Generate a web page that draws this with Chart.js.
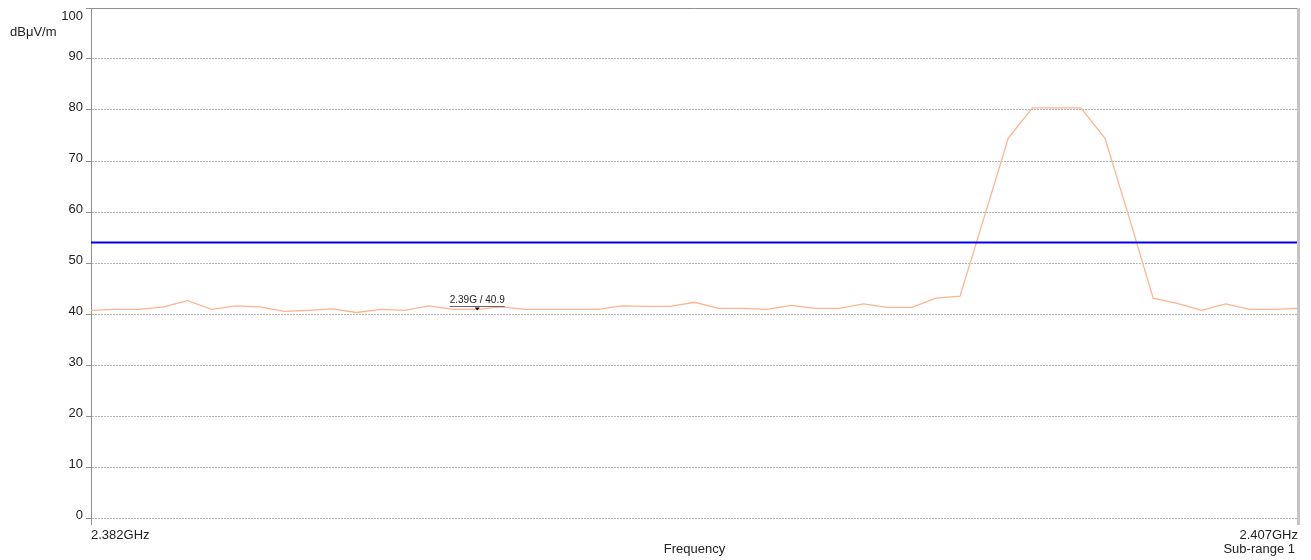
<!DOCTYPE html>
<html>
<head>
<meta charset="utf-8">
<title>Field strength scan</title>
<script src="https://cdn.jsdelivr.net/npm/chart.js@4/dist/chart.umd.min.js"></script>
<style>
    html, body { margin: 0; padding: 0; background: #fff; }
    #scan { display: block; }
</style>
</head>
<body>
<canvas id="scan" width="1311" height="560"></canvas>
<script>
// Sweep 2.382 - 2.407 GHz, 0.5 MHz steps
const freqGHz = [
    2.3820, 2.3825, 2.3830, 2.3835, 2.3840, 2.3845, 2.3850, 2.3855, 2.3860, 2.3865,
    2.3870, 2.3875, 2.3880, 2.3885, 2.3890, 2.3895, 2.3900, 2.3905, 2.3910, 2.3915,
    2.3920, 2.3925, 2.3930, 2.3935, 2.3940, 2.3945, 2.3950, 2.3955, 2.3960, 2.3965,
    2.3970, 2.3975, 2.3980, 2.3985, 2.3990, 2.3995, 2.4000, 2.4005, 2.4010, 2.4015,
    2.4020, 2.4025, 2.4030, 2.4035, 2.4040, 2.4045, 2.4050, 2.4055, 2.4060, 2.4065,
    2.4070
];
// Peak trace, dBuV/m
const levels = [
    40.7, 40.9, 40.9, 41.4, 42.6, 40.9, 41.6, 41.4, 40.5, 40.7,
    41.0, 40.3, 40.9, 40.7, 41.6, 40.9, 40.9, 41.4, 40.9, 40.9,
    40.9, 40.9, 41.6, 41.5, 41.5, 42.3, 41.1, 41.1, 40.9, 41.7,
    41.1, 41.1, 42.0, 41.3, 41.3, 43.1, 43.5, 59.0, 74.5, 80.4,
    80.4, 80.4, 74.5, 59.0, 43.1, 42.1, 40.7, 42.0, 40.9, 40.9,
    41.1
];
const limitFreq = [2.382, 2.407];
const limitLevel = [54, 54];
const yTicks = [0, 10, 20, 30, 40, 50, 60, 70, 80, 90, 100];
const xTicks = [2.382, 2.407];
const xTickText = ['2.382GHz', '2.407GHz'];

// marker M1
const markerFreq = 2.39;
const markerLevel = 40.9;
const markerText = '2.39G / 40.9';

const FONT = 'Arial, "Liberation Sans", sans-serif';
const INK = '#222';

const extras = {
    id: 'extras',
    afterDraw(chart) {
        const { ctx, chartArea: a, scales } = chart;
        ctx.save();

        // top and right frame
        ctx.strokeStyle = '#909090';
        ctx.lineWidth = 1;
        ctx.beginPath();
        ctx.moveTo(a.left, a.top + 0.5);
        ctx.lineTo(a.right, a.top + 0.5);
        ctx.stroke();
        ctx.strokeStyle = '#c4c4c4';
        ctx.lineWidth = 3;
        ctx.beginPath();
        ctx.moveTo(a.right + 0.5, a.top);
        ctx.lineTo(a.right + 0.5, a.bottom + 7);
        ctx.stroke();

        ctx.fillStyle = INK;
        ctx.font = '13px ' + FONT;
        ctx.textBaseline = 'middle';
        ctx.textAlign = 'left';
        ctx.fillText('dB\u03bcV/m', 10, 32);
        ctx.textAlign = 'center';
        ctx.fillText('Frequency', (a.left + a.right) / 2, 549);
        ctx.textAlign = 'right';
        ctx.fillText('Sub-range 1', a.right - 3, 549);
        // top tick label sits inside the frame
        ctx.fillText(String(yTicks[yTicks.length - 1]), a.left - 8, 16);

        // marker label with underline and pointer
        const mx = scales.x.getPixelForValue(markerFreq);
        const my = scales.y.getPixelForValue(markerLevel);
        ctx.font = '10px ' + FONT;
        ctx.textAlign = 'center';
        ctx.fillText(markerText, mx, my - 9);
        const w = ctx.measureText(markerText).width;
        ctx.strokeStyle = '#666';
        ctx.lineWidth = 1;
        ctx.beginPath();
        ctx.moveTo(mx - w / 2, Math.round(my - 3) + 0.5);
        ctx.lineTo(mx + w / 2, Math.round(my - 3) + 0.5);
        ctx.stroke();
        ctx.fillStyle = '#000';
        ctx.beginPath();
        ctx.moveTo(mx - 2.5, my - 2);
        ctx.lineTo(mx + 2.5, my - 2);
        ctx.lineTo(mx, my + 1);
        ctx.closePath();
        ctx.fill();
        ctx.restore();
    }
};

new Chart(document.getElementById('scan'), {
    type: 'line',
    data: {
        datasets: [
            {
                label: 'Limit',
                data: limitFreq.map((f, i) => ({ x: f, y: limitLevel[i] })),
                borderColor: '#0000ee',
                borderWidth: 2,
                pointRadius: 0,
                tension: 0
            },
            {
                label: 'Peak',
                data: freqGHz.map((f, i) => ({ x: f, y: levels[i] })),
                borderColor: '#ffb48e',
                borderWidth: 1.3,
                pointRadius: 0,
                tension: 0
            }
        ]
    },
    options: {
        responsive: false,
        animation: false,
        layout: { padding: { top: 8, right: 13, left: 0, bottom: 0 } },
        plugins: {
            legend: { display: false },
            tooltip: { enabled: false }
        },
        scales: {
            x: {
                type: 'linear',
                min: 2.382,
                max: 2.407,
                afterBuildTicks: s => { s.ticks = xTicks.map(v => ({ value: v })); },
                afterFit: s => { s.height = 42; s.paddingLeft = 0; s.paddingRight = 0; },
                grid: { drawOnChartArea: false, drawTicks: true, tickLength: 7, color: '#909090' },
                border: { display: false },
                ticks: {
                    align: 'inner',
                    padding: 3,
                    maxRotation: 0,
                    autoSkip: false,
                    color: INK,
                    font: { family: FONT, size: 13 },
                    callback: (v, i) => xTickText[i]
                }
            },
            y: {
                min: 0,
                max: 100,
                afterBuildTicks: s => { s.ticks = yTicks.map(v => ({ value: v })); },
                afterFit: s => { s.width = 91; s.paddingTop = 0; s.paddingBottom = 0; },
                grid: {
                    color: '#b8b8b8',
                    tickColor: '#909090',
                    tickLength: 5,
                    drawTicks: true
                },
                border: { display: true, color: '#909090', width: 1, dash: [2, 1] },
                ticks: {
                    padding: 3,
                    labelOffset: -3,
                    color: INK,
                    font: { family: FONT, size: 13 },
                    callback: v => (v === 100 ? '' : String(v))
                }
            }
        }
    },
    plugins: [extras]
});
</script>
</body>
</html>
